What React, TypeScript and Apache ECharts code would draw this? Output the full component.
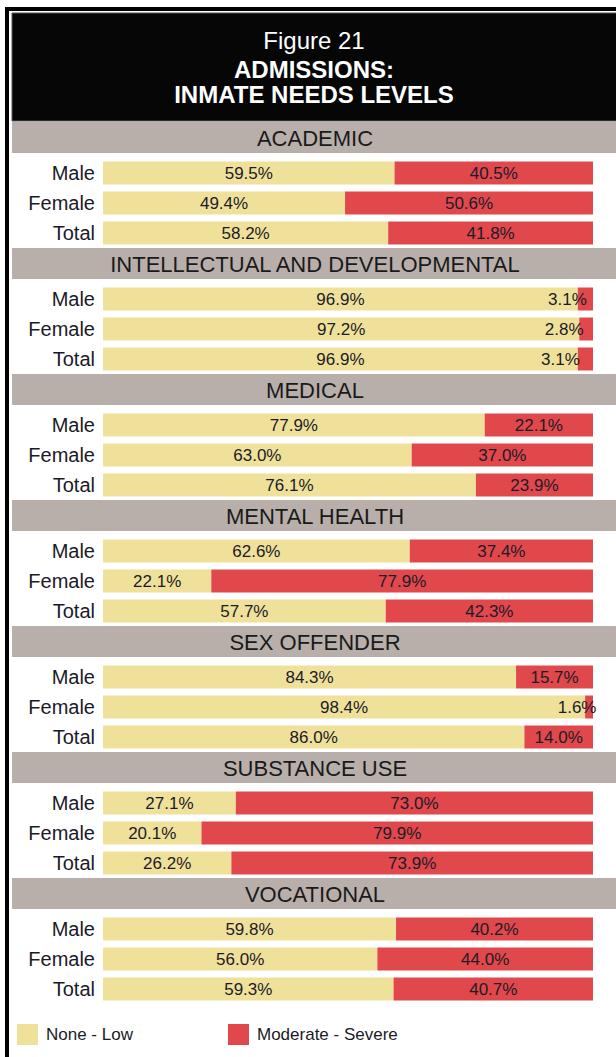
import React, { useEffect, useRef } from "react";
import * as echarts from "echarts";

const sections = [
  "ACADEMIC",
  "INTELLECTUAL AND DEVELOPMENTAL",
  "MEDICAL",
  "MENTAL HEALTH",
  "SEX OFFENDER",
  "SUBSTANCE USE",
  "VOCATIONAL",
];
const groups = ["Male", "Female", "Total"];
// None - Low values per section: [Male, Female, Total]
const noneLow = [
  [59.5, 49.4, 58.2],
  [96.9, 97.2, 96.9],
  [77.9, 63.0, 76.1],
  [62.6, 22.1, 57.7],
  [84.3, 98.4, 86.0],
  [27.1, 20.1, 26.2],
  [59.8, 56.0, 59.3],
];
// Moderate - Severe values per section: [Male, Female, Total]
const modSevere = [
  [40.5, 50.6, 41.8],
  [3.1, 2.8, 3.1],
  [22.1, 37.0, 23.9],
  [37.4, 77.9, 42.3],
  [15.7, 1.6, 14.0],
  [73.0, 79.9, 73.9],
  [40.2, 44.0, 40.7],
];
const legendNames = ["None - Low", "Moderate - Severe"];
const titleLines = ["Figure 21", "ADMISSIONS:", "INMATE NEEDS LEVELS"];

// label shifts for tiny segments whose labels spill out (section, row) -> dx
const labelShift: Record<string, number> = {
  "1-0": -18,
  "1-1": -22,
  "1-2": -25,
  "4-1": -12,
};

const YELLOW = "#f0e19a";
const RED = "#e0484c";
const HEADER = "#b8afaa";
const TEXT = "#1b1b28";
const SANS = "'Liberation Sans', Arial, sans-serif";

export default function App() {
  const ref = useRef<HTMLDivElement>(null);
  useEffect(() => {
    if (!ref.current) return;
    const chart = echarts.init(ref.current, undefined, { renderer: "svg" });
    const H0 = 122;
    const pitch = 126;
    const grids: any[] = [];
    const xAxes: any[] = [];
    const yAxes: any[] = [];
    const series: any[] = [];
    const graphics: any[] = [];

    // frame
    graphics.push({ type: "rect", z: -10, shape: { x: 5, y: 7, width: 700, height: 1100 }, style: { fill: "#000" } });
    graphics.push({ type: "rect", z: -9, shape: { x: 9, y: 11, width: 700, height: 1100 }, style: { fill: "#fff" } });
    graphics.push({ type: "rect", z: -8, shape: { x: 12, y: 13, width: 700, height: 108 }, style: { fill: "#060606", stroke: "#555", lineWidth: 1 } });
    const titleY = [40, 69, 94];
    titleLines.forEach((t, i) => {
      graphics.push({
        type: "text",
        z: 5,
        style: {
          text: t,
          x: 314,
          y: titleY[i],
          align: "center",
          verticalAlign: "middle",
          fill: "#fff",
          font: `${i === 0 ? "normal" : "bold"} 24px ${SANS}`,
        },
      });
    });

    sections.forEach((name, s) => {
      const H = H0 + s * pitch;
      graphics.push({ type: "rect", z: -5, shape: { x: 12, y: H, width: 700, height: 31 }, style: { fill: HEADER } });
      graphics.push({
        type: "text",
        z: 5,
        style: {
          text: name,
          x: 315,
          y: H + 16,
          align: "center",
          verticalAlign: "middle",
          fill: "#1a1a1a",
          font: `22px ${SANS}`,
        },
      });
      grids.push({ left: 103, width: 490, top: H + 36, height: 90 });
      xAxes.push({ type: "value", gridIndex: s, min: 0, max: 100, show: false });
      yAxes.push({
        type: "category",
        gridIndex: s,
        inverse: true,
        data: groups,
        axisLine: { show: false },
        axisTick: { show: false },
        axisLabel: { fontSize: 20, fontFamily: SANS, color: TEXT, margin: 8 },
      });
      const mk = (vals: number[], shiftable: boolean) =>
        vals.map((v, r) => {
          const key = `${s}-${r}`;
          if (shiftable && labelShift[key] !== undefined) {
            return { value: v, label: { offset: [labelShift[key], 0] } };
          }
          return v;
        });
      const labelCfg = {
        show: true,
        position: "inside",
        fontSize: 17,
        fontFamily: SANS,
        color: TEXT,
        formatter: (p: any) => Number(p.value).toFixed(1) + "%",
      };
      series.push({
        type: "bar",
        name: legendNames[0],
        xAxisIndex: s,
        yAxisIndex: s,
        stack: "s" + s,
        barWidth: 23,
        itemStyle: { color: YELLOW },
        label: labelCfg,
        data: mk(noneLow[s], false),
      });
      series.push({
        type: "bar",
        name: legendNames[1],
        xAxisIndex: s,
        yAxisIndex: s,
        stack: "s" + s,
        barWidth: 23,
        itemStyle: { color: RED },
        label: labelCfg,
        data: mk(modSevere[s], true),
      });
    });

    const legendBase = {
      top: 1024,
      itemWidth: 21,
      itemHeight: 21,
      icon: "rect",
      padding: 0,
      selectedMode: false,
      textStyle: { fontSize: 17, fontFamily: SANS, color: TEXT, padding: [0, 0, 0, 3] },
    };

    chart.setOption({
      animation: false,
      backgroundColor: "#fff",
      grid: grids,
      xAxis: xAxes,
      yAxis: yAxes,
      series,
      graphic: { elements: graphics },
      legend: [
        { ...legendBase, left: 17, data: [legendNames[0]] },
        { ...legendBase, left: 228, data: [legendNames[1]] },
      ],
    });
    return () => chart.dispose();
  }, []);
  return (
    <div
      ref={ref}
      style={{ position: "fixed", left: 0, top: 0, width: 616, height: 1057 }}
    />
  );
}
